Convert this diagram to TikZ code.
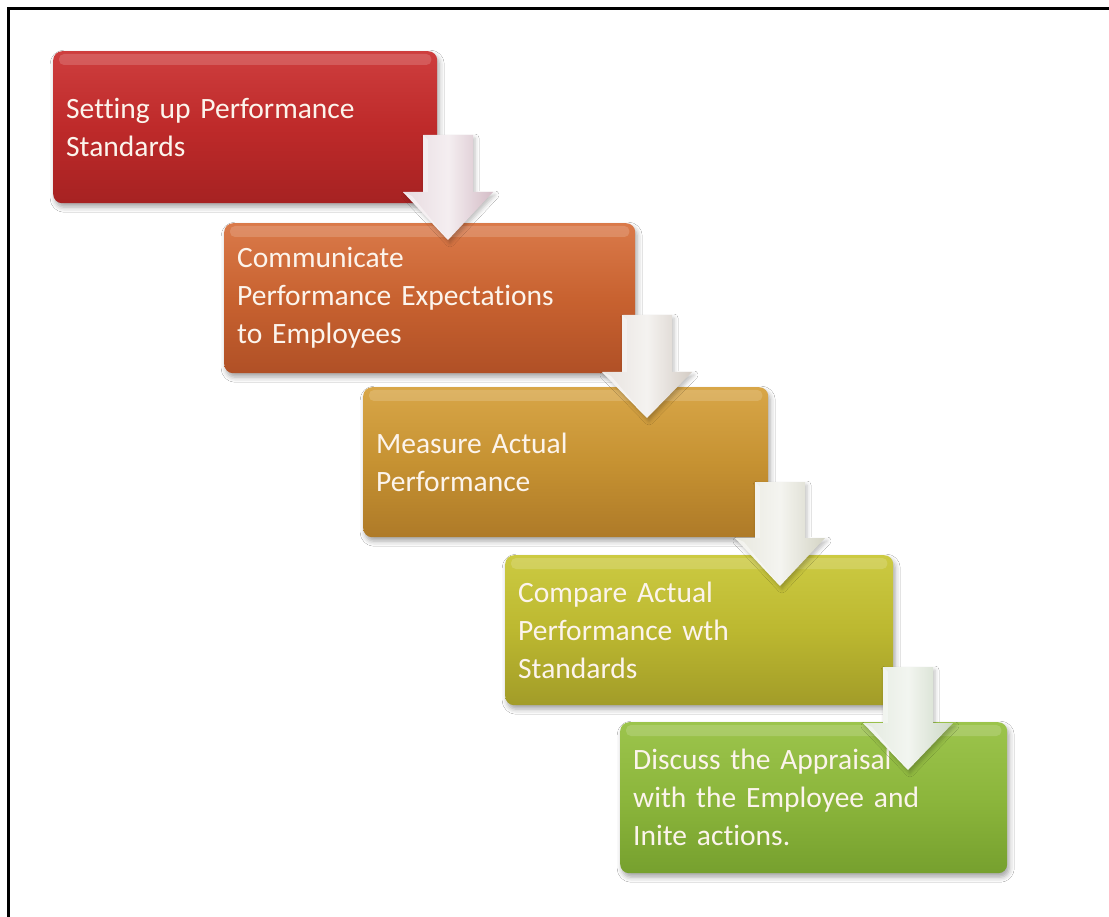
\documentclass[tikz,border=0pt]{standalone}
\usepackage{fontspec}
\setmainfont{Carlito}[Ligatures={NoCommon}]
\usetikzlibrary{shadows.blur}
\definecolor{txt}{RGB}{252,244,236}
\definecolor{redT}{RGB}{206,62,62}
\definecolor{redM}{RGB}{190,42,42}
\definecolor{redB}{RGB}{166,34,34}
\definecolor{orT}{RGB}{218,122,74}
\definecolor{orM}{RGB}{200,98,48}
\definecolor{orB}{RGB}{176,80,38}
\definecolor{goT}{RGB}{216,166,72}
\definecolor{goM}{RGB}{198,146,50}
\definecolor{goB}{RGB}{174,122,40}
\definecolor{yeT}{RGB}{204,202,66}
\definecolor{yeM}{RGB}{188,184,48}
\definecolor{yeB}{RGB}{162,156,40}
\definecolor{grT}{RGB}{156,196,76}
\definecolor{grM}{RGB}{140,182,60}
\definecolor{grB}{RGB}{118,160,46}
\definecolor{arA}{RGB}{212,188,198}
\definecolor{arB}{RGB}{212,204,196}
\definecolor{arC}{RGB}{212,212,196}
\definecolor{arD}{RGB}{204,216,196}
\newcommand\downarrowshape[6]{%
  \coordinate (#1s) at (#2,#3);
  \coordinate (#1t) at (#2,#5);
  \path[arrowbody, left color=#6!55!white, right color=#6, middle color=#6!25!white]
    (#2-25,#3) -- (#2+25,#3) -- (#2+25,#4) -- (#2+45,#4) -- (#1t)
    -- (#2-45,#4) -- (#2-25,#4) -- cycle;
  \fill[white, opacity=0.45] (#2-45,#4) -- (#1t) -- (#2-36,#4+4) -- cycle;
  \fill[white, opacity=0.35] (#2-25,#3) -- (#2-25,#4) -- (#2-20,#4) -- (#2-20,#3+5) -- cycle;
}
\begin{document}
\begin{tikzpicture}[x=1pt,y=-1pt,
  stepbox/.style={rectangle, rounded corners=9pt, anchor=north west,
    inner xsep=13pt, inner ysep=0pt, align=left, text=txt,
    font=\fontsize{29.5}{38}\selectfont,
    blur shadow={shadow xshift=2pt, shadow yshift=-4pt, shadow blur radius=5pt, shadow opacity=35}},
  arrowbody/.style={blur shadow={shadow xshift=2pt, shadow yshift=-3pt, shadow blur radius=4pt, shadow opacity=25}},
  hilite/.style={white, opacity=0.16, rounded corners=5pt}]
\useasboundingbox (0,0) rectangle (1109,917);
\fill[white] (0,0) rectangle (1109,917);
\draw[line width=3pt] (8.5,917) -- (8.5,8.5) -- (1109,8.5);

\node[stepbox, text width=358pt, minimum height=152pt, top color=redT, bottom color=redB, middle color=redM] (b1) at (53,51) {Setting up Performance\\Standards};
\node[stepbox, text width=385pt, minimum height=150pt, top color=orT, bottom color=orB, middle color=orM] (b2) at (224,223) {Communicate\\Performance Expectations\\to Employees};
\node[stepbox, text width=379pt, minimum height=150pt, top color=goT, bottom color=goB, middle color=goM] (b3) at (363,387) {Measure Actual\\Performance};
\node[stepbox, text width=362pt, minimum height=150pt, top color=yeT, bottom color=yeB, middle color=yeM] (b4) at (505,555) {Compare Actual\\Performance wth\\Standards};
\node[stepbox, text width=361pt, minimum height=151pt, top color=grT, bottom color=grB, middle color=grM] (b5) at (620,722) {Discuss the Appraisal\\with the Employee and\\Inite actions.};

\foreach \b in {b1,b2,b3,b4,b5}{
  \fill[hilite] ([xshift=6pt,yshift=-3pt]\b.north west) rectangle ([xshift=-6pt,yshift=-14pt]\b.north east);
}

\downarrowshape{a1}{448}{135}{192}{240}{arA}
\downarrowshape{a2}{647}{315}{372}{418}{arB}
\downarrowshape{a3}{780}{482}{538}{586}{arC}
\downarrowshape{a4}{908}{667}{723}{770}{arD}
\end{tikzpicture}
\end{document}
